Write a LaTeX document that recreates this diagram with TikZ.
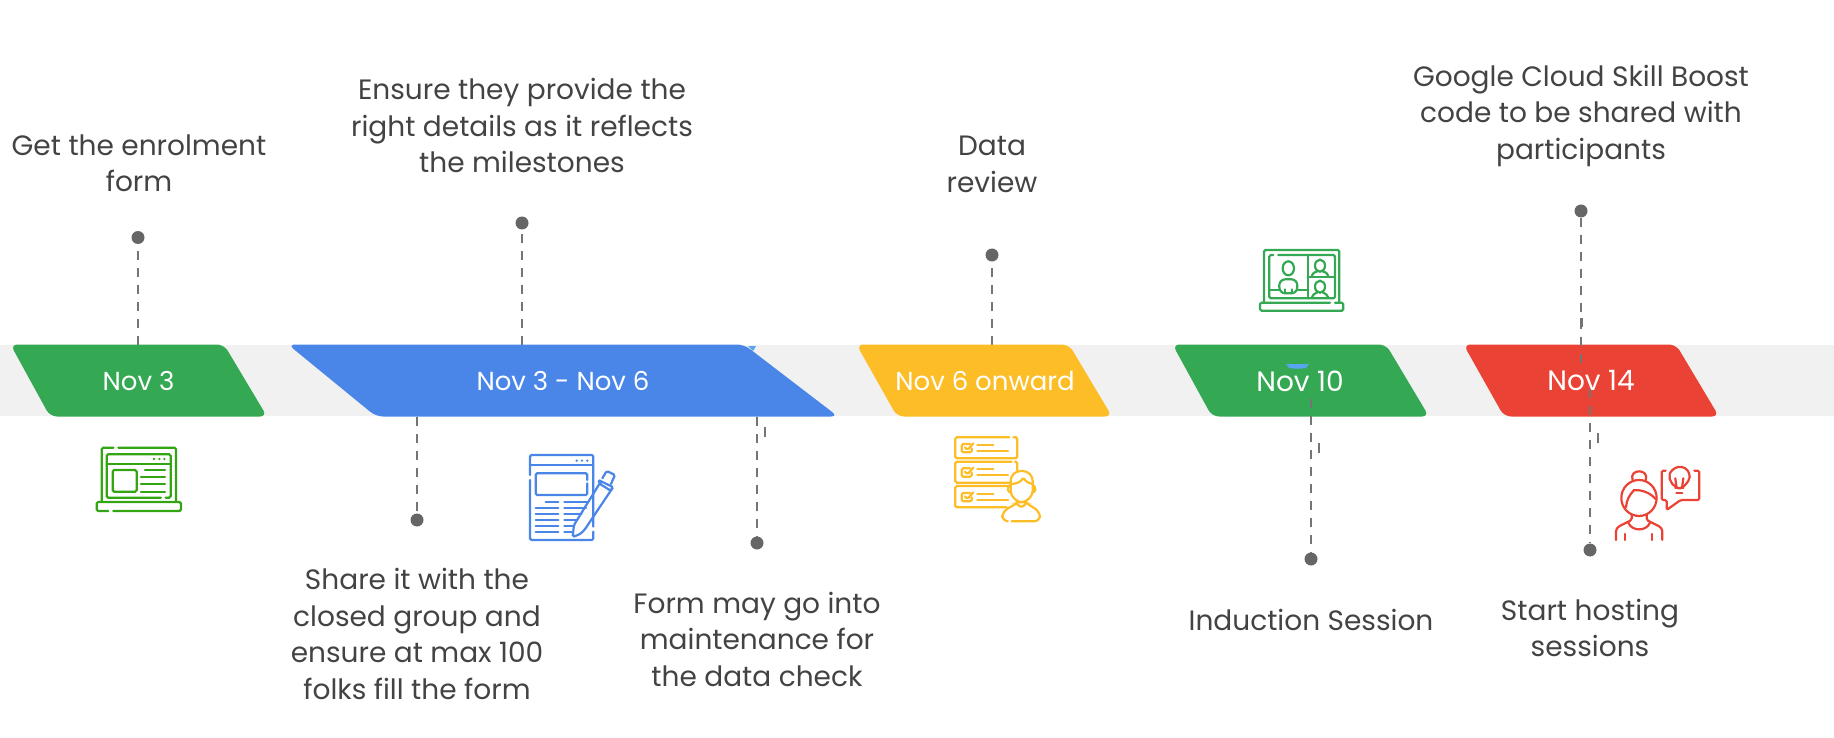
\documentclass[tikz,border=0pt]{standalone}
\usepackage{fontspec}
\setmainfont{Poppins}

\definecolor{vband}{HTML}{F1F1F1}
\definecolor{vgreen}{HTML}{34A853}
\definecolor{vblue}{HTML}{4A86E8}
\definecolor{vyellow}{HTML}{FDBD26}
\definecolor{vred}{HTML}{EA4335}
\definecolor{vlime}{HTML}{34A512}
\definecolor{vink}{HTML}{434343}
\definecolor{vleader}{HTML}{757575}
\definecolor{vdot}{HTML}{666666}
\definecolor{vsliver}{HTML}{57A5F0}

\tikzset{
    pill/.style={rounded corners=7pt},
    pilltext/.style={text=white, font=\fontsize{26}{30}\selectfont},
    pilllarge/.style={text=white, font=\fontsize{28}{30}\selectfont},
    note/.style={text=vink, align=center, font=\fontsize{28}{36.5}\selectfont},
    stop/.style={circle, fill=vdot, inner sep=0pt, minimum size=13pt},
    leader/.style={vleader, line width=2pt, dash pattern=on 9pt off 8pt},
    stray/.style={vleader, line width=2pt},
    zoomed/.style={x=0.3333pt, y=-0.3333pt},
    glyph/.style={line width=2.2pt, rounded corners=1.5pt, line cap=round, fill=none}
}

\begin{document}
\begin{tikzpicture}[x=1pt, y=-1pt]

\useasboundingbox (0, 0) rectangle (1834, 738);

% ==========================================
% 1. BAND
% ==========================================

\fill[vband] (0, 345) rectangle (1834, 416);

% ==========================================
% 2. LEADER LINES BEHIND THE PILLS
% ==========================================

\node[stop] (dotform) at (138, 237.5) {};
\node[stop] (dotdetails) at (522, 223) {};
\node[stop] (dotreview) at (992, 255) {};

\coordinate (footform) at (138, 345);
\coordinate (footdetails) at (522, 345);
\coordinate (footreview) at (992, 345);

\draw[leader] (footform) -- (dotform);
\draw[leader] (footdetails) -- (dotdetails);
\draw[leader] (footreview) -- (dotreview);

% ==========================================
% 3. PILLS
% ==========================================

\fill[vsliver] (748, 346) -- (756, 346) -- (753, 351) -- cycle;

\fill[vgreen, pill] (10.5, 344.5) -- (224, 344.5) -- (267, 416.5) -- (50, 416.5) -- cycle;
\fill[vblue, pill] (288, 344.5) -- (744, 344.5) -- (838, 416.5) -- (376, 416.5) -- cycle;
\fill[vyellow, pill] (856.5, 344.5) -- (1069, 344.5) -- (1112, 416.5) -- (897, 416.5) -- cycle;
\fill[vgreen, pill] (1172.5, 344.5) -- (1386, 344.5) -- (1429, 416.5) -- (1212, 416.5) -- cycle;
\fill[vred, pill] (1463.5, 344.5) -- (1676, 344.5) -- (1719, 416.5) -- (1504, 416.5) -- cycle;

\fill[vsliver] (1286, 364) -- (1309, 364) -- (1306, 368) .. controls (1300, 369) and (1295, 369) .. (1289, 368) -- cycle;

\node[pilltext] (pillthree) at (138.5, 381) {Nov 3};
\node[pilltext] (pillspan) at (563, 381) {Nov 3 - Nov 6};
\node[pilltext] (pillsix) at (985, 381) {Nov 6 onward};
\node[pilllarge] (pillten) at (1300, 381) {Nov 10};
\node[pilllarge] (pillfourteen) at (1591, 381) {Nov 14};

% ==========================================
% 4. LEADER LINES OVER THE PILLS
% ==========================================

\node[stop] (dotshare) at (417, 520) {};
\node[stop] (dotcheck) at (757, 543) {};
\node[stop] (dotinduction) at (1311, 559) {};
\node[stop] (dotboost) at (1581, 211) {};
\node[stop] (dothosting) at (1590, 550) {};

\coordinate (headshare) at (417, 417);
\coordinate (headcheck) at (757, 417);
\coordinate (headinduction) at (1311, 399);
\coordinate (footboost) at (1581, 372);
\coordinate (headhosting) at (1590, 389);

\draw[leader] (headshare) -- (dotshare);
\draw[leader] (headcheck) -- (dotcheck);
\draw[leader] (headinduction) -- (dotinduction);
\draw[leader] (dotboost) -- (footboost);
\draw[leader] (headhosting) -- (dothosting);

% Loose dashes
\draw[stray] (765, 427) -- (765, 437);
\draw[stray] (1319, 443) -- (1319, 453);
\draw[stray] (1598, 433) -- (1598, 443);
\draw[stray, line width=3pt] (1581.5, 318) -- (1581.5, 327);

% ==========================================
% 5. LABELS
% ==========================================

\node[note] (noteform) at (139, 163.5) {Get the enrolment\\form};
\node[note] (notedetails) at (522, 125.5) {Ensure they provide the\\right details as it reflects\\the milestones};
\node[note] (notereview) at (992, 164.5) {Data\\review};
\node[note] (noteboost) at (1581, 115.5) {Google Cloud Skill Boost\\code to be shared with\\participants};
\node[note] (noteshare) at (417, 634) {Share it with the\\closed group and\\ensure at max 100\\folks fill the form};
\node[note] (notecheck) at (757, 639) {Form may go into\\maintenance for\\the data check};
\node[note] (noteinduction) at (1311, 620) {Induction Session};
\node[note] (notehosting) at (1590, 628) {Start hosting\\sessions};

% ==========================================
% 6. ICONS
% ==========================================

% Laptop with form
\begin{scope}[shift={(0, 330)}, zoomed, vlime]
    \draw[glyph] (340, 353) -- (305, 353) -- (305, 515);
    \draw[glyph] (355, 353) -- (528, 353) -- (528, 515);
    \draw[glyph] (325, 543) -- (290, 543) -- (290, 516) -- (543, 516) -- (543, 543) -- (340, 543);
    \draw[glyph] (483, 503) -- (320, 503) -- (320, 373) -- (512, 373) -- (512, 503) -- (497, 503);
    \draw[glyph] (320, 403) -- (512, 403);
    \draw[glyph] (338, 420) rectangle (410, 485);
    \draw[glyph] (435, 420) -- (495, 420);
    \draw[glyph] (423, 441) -- (495, 441);
    \draw[glyph] (423, 463) -- (495, 463);
    \draw[glyph] (423, 485) -- (495, 485);
    \foreach \dotx in {462, 478, 493} {
        \fill (\dotx, 387) circle (1.3pt);
    }
\end{scope}

% Form and pen
\begin{scope}[shift={(500, 330)}, zoomed, vblue]
    \draw[glyph] (90, 435) -- (90, 375) -- (280, 375) -- (280, 590);
    \draw[glyph] (280, 605) -- (280, 630) -- (90, 630) -- (90, 450);
    \draw[glyph] (90, 405) -- (280, 405);
    \draw[glyph] (262, 450) -- (262, 430) -- (107, 430) -- (107, 495) -- (262, 495) -- (262, 460);
    \draw[glyph] (137, 515) -- (175, 515);
    \draw[glyph] (193, 515) -- (262, 515);
    \foreach \liney/\lineend in {534/258, 552/245, 570/232, 588/222} {
        \draw[glyph] (107, \liney) -- (175, \liney);
        \draw[glyph] (193, \liney) -- (\lineend, \liney);
    }
    \draw[glyph] (107, 606) -- (175, 606);
    \draw[glyph] (193, 606) -- (218, 606);
    \draw[glyph] (298, 462) -- (222, 585) -- (218, 620) .. controls (240, 615) and (250, 605) .. (260, 590) -- (335, 478);
    \draw[glyph] (295, 450) -- (340, 472) -- (332, 482) -- (300, 462) -- cycle;
    \draw[glyph] (307, 445) -- (320, 423) -- (345, 435) -- (333, 462);
    \foreach \dotx in {230, 246, 262} {
        \fill (\dotx, 392) circle (1.3pt);
    }
\end{scope}

% Checklists and reviewer
\begin{scope}[shift={(850, 330)}, zoomed, vyellow]
    \draw[glyph] (478, 322) -- (316, 322) -- (316, 385) -- (502, 385) -- (502, 322) -- (490, 322);
    \draw[glyph] (478, 458) -- (316, 458) -- (316, 395) -- (485, 395);
    \draw[glyph] (495, 395) -- (502, 395) -- (502, 420);
    \draw[glyph] (470, 532) -- (316, 532) -- (316, 468) -- (475, 468);
    \foreach \boxy in {0, 73, 147} {
        \draw[glyph] (360, 342 + \boxy) -- (335, 342 + \boxy) -- (335, 367 + \boxy) -- (365, 367 + \boxy) -- (365, 355 + \boxy);
        \draw[glyph] (345, 352 + \boxy) -- (352, 360 + \boxy) -- (370, 340 + \boxy);
        \draw[glyph] (382, 344 + \boxy) -- (430, 344 + \boxy);
        \draw[glyph] (382, 362 + \boxy) -- (474, 362 + \boxy);
    }
    \draw[glyph, rounded corners=4pt] (482, 462) -- (482, 440) -- (500, 423) -- (530, 423) -- (548, 440) -- (548, 462);
    \draw[glyph, rounded corners=4pt] (482, 462) -- (482, 495) -- (505, 517) -- (525, 517) -- (548, 495) -- (548, 462);
    \draw[glyph] (482, 462) .. controls (505, 462) and (515, 452) .. (520, 442) .. controls (525, 452) and (535, 460) .. (548, 462);
    \draw[glyph] (482, 465) -- (474, 470) -- (474, 485) -- (482, 487);
    \draw[glyph] (548, 465) -- (556, 470) -- (556, 485) -- (548, 487);
    \draw[glyph] (500, 514) -- (500, 522) -- (514, 532) -- (528, 522) -- (528, 514);
    \draw[glyph, rounded corners=6pt] (472, 574) -- (457, 574) -- (457, 545) -- (500, 520);
    \draw[glyph, rounded corners=6pt] (530, 520) -- (570, 545) -- (570, 574) -- (485, 574);
\end{scope}

% Laptop with video call
\begin{scope}[shift={(1240, 230)}, zoomed, vgreen]
    \draw[glyph] (72, 218) -- (72, 60) -- (298, 60) -- (298, 218);
    \draw[glyph] (270, 218) -- (60, 218) -- (60, 242) -- (310, 242) -- (310, 218) -- (285, 218);
    \draw[glyph] (100, 75) -- (88, 75) -- (88, 205) -- (285, 205) -- (285, 75) -- (115, 75);
    \draw[glyph] (203, 75) -- (203, 205);
    \draw[glyph] (203, 140) -- (285, 140);
    \draw[glyph] (88, 180) -- (118, 180);
    \draw[glyph] (172, 180) -- (203, 180);
    \draw[glyph] (145, 115) ellipse (17 and 21);
    \draw[glyph, rounded corners=6pt] (118, 190) -- (118, 148) -- (172, 148) -- (172, 190) -- cycle;
    \draw[glyph] (135, 178) -- (135, 190);
    \draw[glyph] (155, 178) -- (155, 190);
    \draw[glyph] (240, 107) ellipse (15 and 18);
    \draw[glyph] (215, 138) .. controls (215, 128) and (225, 128) .. (232, 124);
    \draw[glyph] (265, 138) .. controls (265, 128) and (255, 128) .. (248, 124);
    \draw[glyph] (240, 170) ellipse (15 and 18);
    \draw[glyph] (215, 203) .. controls (215, 193) and (225, 193) .. (232, 187);
    \draw[glyph] (265, 203) .. controls (265, 193) and (255, 193) .. (248, 187);
\end{scope}

% Woman with idea
\begin{scope}[shift={(1440, 300)}, zoomed, vred]
    \draw[glyph] (597, 594) ellipse (53 and 54);
    \draw[glyph] (578, 541) .. controls (565, 505) and (630, 505) .. (617, 541);
    \draw[glyph] (580, 571) .. controls (605, 568) and (630, 578) .. (648, 598);
    \draw[glyph] (580, 573) .. controls (568, 585) and (560, 600) .. (558, 622);
    \draw[glyph] (575, 643) -- (575, 660) -- (535, 680) -- (528, 690) -- (528, 720);
    \draw[glyph] (620, 643) -- (620, 660) -- (660, 680) -- (667, 690) -- (667, 720);
    \draw[glyph] (565, 668) .. controls (575, 695) and (620, 695) .. (630, 668);
    \draw[glyph] (556, 702) -- (556, 720);
    \draw[glyph] (636, 702) -- (636, 720);
    \draw[glyph] (677, 512) -- (665, 512) -- (665, 600) -- (680, 600) -- (680, 630) -- (722, 600) -- (778, 600) -- (778, 512) -- (763, 512);
    \draw[glyph] (708, 562) .. controls (690, 550) and (680, 525) .. (700, 508) .. controls (715, 497) and (735, 500) .. (745, 515) .. controls (755, 535) and (740, 552) .. (728, 562);
    \draw[glyph] (706, 535) -- (710, 565) -- (726, 565) -- (730, 535);
    \draw[glyph] (706, 565) -- (730, 565);
    \draw[glyph] (709, 580) -- (727, 580);
\end{scope}

\end{tikzpicture}
\end{document}
